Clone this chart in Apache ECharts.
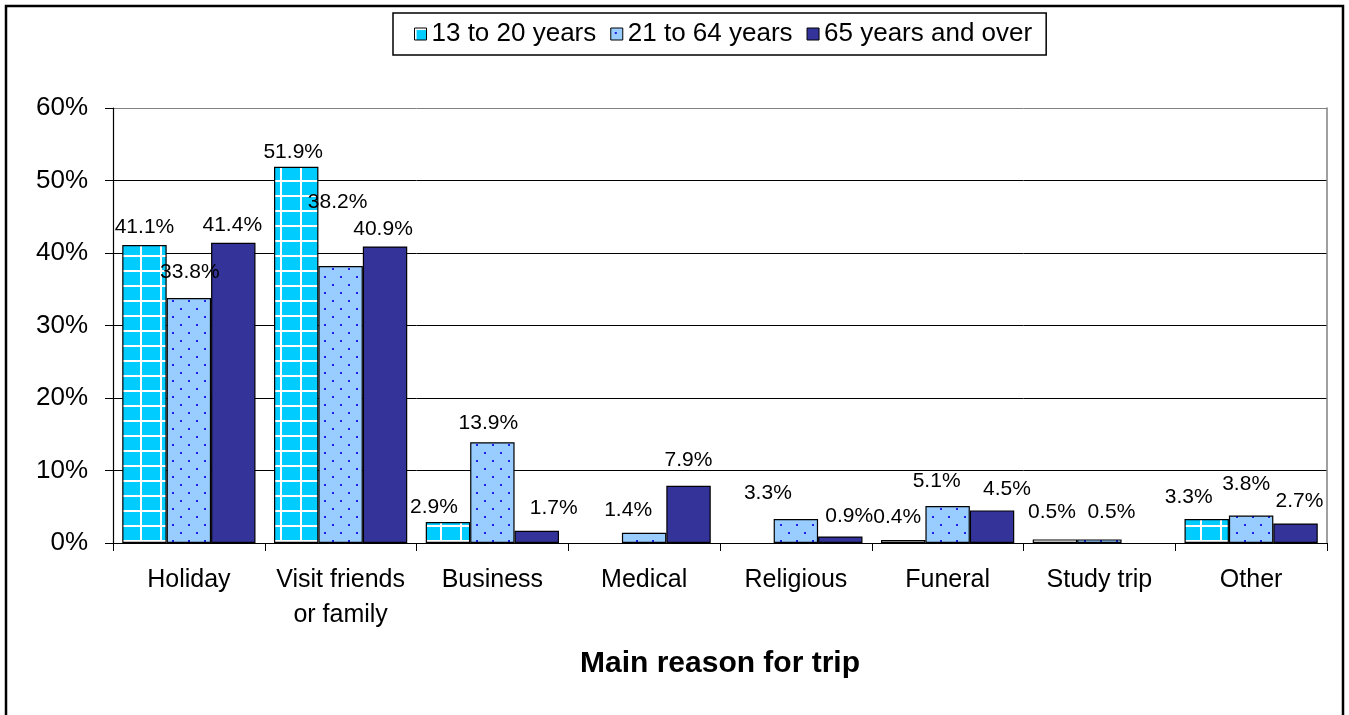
<!DOCTYPE html>
<html>
<head>
<meta charset="utf-8">
<script src="https://cdn.jsdelivr.net/npm/echarts@6/dist/echarts.min.js"></script>
<style>
html,body{margin:0;padding:0;background:#fff;}
#chart{width:1349px;height:715px;}
</style>
</head>
<body>
<div id="chart"></div>
<script>
// ---- data ----
const categories = ['Holiday', 'Visit friends\nor family', 'Business', 'Medical', 'Religious', 'Funeral', 'Study trip', 'Other'];
const seriesNames = ['13 to 20 years', '21 to 64 years', '65 years and over'];
const age13to20 = [41.1, 51.9, 2.9, null, null, 0.4, 0.5, 3.3];
const age21to64 = [33.8, 38.2, 13.9, 1.4, 3.3, 5.1, 0.5, 3.8];
const age65plus = [41.4, 40.9, 1.7, 7.9, 0.9, 4.5, null, 2.7];
const yTicks = [0, 10, 20, 30, 40, 50, 60];

// ---- label nudges (style only: where each value label sits relative to its bar top) ----
const labelNudge = [
  [[0,-18],[-3,-15],[-14,-15],[0,0],[0,0],[-6,-23],[-3,-27],[-18,-22]],
  [[1,-26],[-3,-64],[-4,-19],[-16,-23],[-28,-26],[-11,-25],[12,-27],[-5,-31]],
  [[-1,-18],[-2,-17],[17,-22],[0,-26],[9,-20],[15,-21],[0,0],[4,-22]]
];

// ---- patterns ----
function gridPattern() {
  const c = document.createElement('canvas');
  c.width = 20; c.height = 15;
  const g = c.getContext('2d');
  g.fillStyle = '#00CCFF'; g.fillRect(0,0,20,15);
  g.fillStyle = '#ffffff';
  g.fillRect(0,0,2,15);
  g.fillRect(0,0,20,2);
  return c;
}
function dotPattern() {
  const c = document.createElement('canvas');
  c.width = 16; c.height = 16;
  const g = c.getContext('2d');
  g.fillStyle = '#99CCFF'; g.fillRect(0,0,16,16);
  g.fillStyle = '#2020F0';
  g.fillRect(4,4,2,2);
  g.fillRect(12,12,2,2);
  return c;
}
const fills = [
  {image: gridPattern(), repeat: 'repeat'},
  {image: dotPattern(), repeat: 'repeat'},
  '#333399'
];

const FONT = '"Liberation Sans", Arial, sans-serif';
const allValues = [age13to20, age21to64, age65plus];

const series = allValues.map((vals, s) => ({
  name: seriesNames[s],
  type: 'bar',
  barGap: '0%',
  barCategoryGap: '12.2%',
  itemStyle: {color: fills[s], borderColor: '#000', borderWidth: 1.2},
  label: {
    show: true,
    position: 'top',
    distance: 0,
    verticalAlign: 'middle',
    color: '#000',
    fontFamily: FONT,
    fontSize: 21,
    formatter: p => (p.value == null ? '' : p.value.toFixed(1) + '%')
  },
  data: vals.map((v, i) => ({value: v, label: {offset: labelNudge[s][i]}}))
}));

const chart = echarts.init(document.getElementById('chart'), null, {renderer: 'canvas'});
chart.setOption({
  backgroundColor: '#fff',
  animation: false,
  textStyle: {fontFamily: FONT},
  legend: {
    left: 393, top: 13,
    padding: [8, 14, 8, 21],
    itemGap: 14,
    itemWidth: 12, itemHeight: 12,
    borderColor: '#000', borderWidth: 1.5,
    icon: 'rect',
    itemStyle: {borderColor: '#000', borderWidth: 1},
    textStyle: {fontSize: 26, color: '#000', fontFamily: FONT},
    data: seriesNames
  },
  grid: {left: 113, right: 22, top: 108, bottom: 172, containLabel: false},
  xAxis: {
    type: 'category',
    data: categories,
    axisLine: {lineStyle: {color: '#000', width: 1.2}},
    axisTick: {show: true, length: 8, lineStyle: {color: '#000'}},
    axisLabel: {fontSize: 25, color: '#000', margin: 20, lineHeight: 35, fontFamily: FONT, interval: 0},
    name: 'Main reason for trip',
    nameLocation: 'middle',
    nameGap: 106,
    nameTextStyle: {fontSize: 30, fontWeight: 'bold', color: '#000', fontFamily: FONT}
  },
  yAxis: [{
    type: 'value',
    min: yTicks[0], max: yTicks[yTicks.length - 1], interval: 10,
    axisLine: {show: true, lineStyle: {color: '#000', width: 1.2}},
    axisTick: {show: true, length: 8, lineStyle: {color: '#000'}},
    axisLabel: {fontSize: 26, color: '#000', margin: 25, formatter: '{value}%', fontFamily: FONT},
    splitLine: {show: true, lineStyle: {color: ['#000','#000','#000','#000','#000','#000','#808080'], width: 1}}
  }, {
    type: 'value',
    position: 'right',
    min: yTicks[0], max: yTicks[yTicks.length - 1], interval: 10,
    axisLine: {show: true, lineStyle: {color: '#808080', width: 1.5}},
    axisTick: {show: false},
    axisLabel: {show: false},
    splitLine: {show: false}
  }],
  graphic: [{
    type: 'rect',
    shape: {x: 6, y: 6, width: 1337, height: 730},
    style: {fill: 'none', stroke: '#000', lineWidth: 2.5},
    silent: true,
    z: 100
  }],
  series: series
});
</script>
</body>
</html>
